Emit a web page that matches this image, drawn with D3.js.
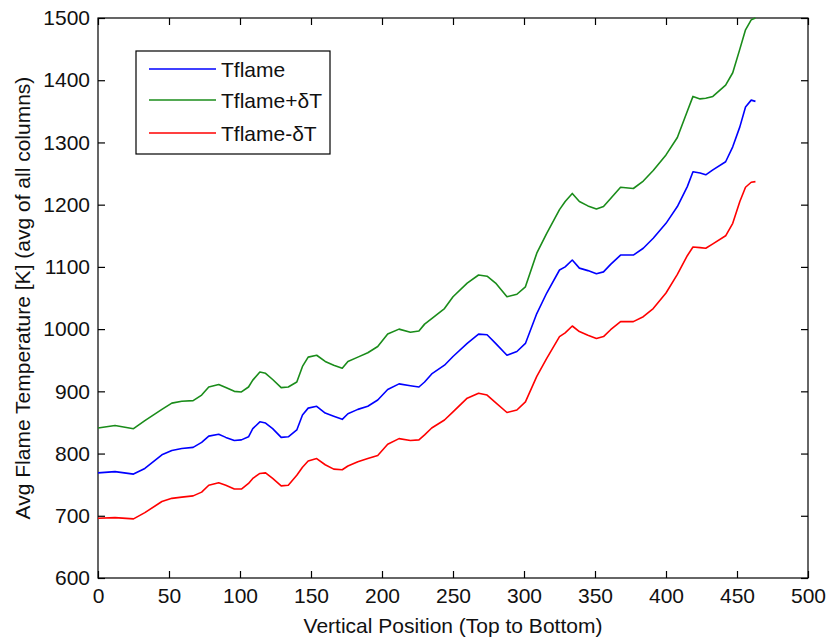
<!DOCTYPE html>
<html><head><meta charset="utf-8">
<script src="https://cdn.jsdelivr.net/npm/d3@7/dist/d3.min.js"></script>
<style>
body{margin:0;background:#fff}
svg{display:block}
text{font-family:"Liberation Sans",Arial,Helvetica,sans-serif;fill:#111}
</style>
</head><body>
<svg id="chart" width="827" height="639"></svg>
<script>
const positions = [0,12,25,33,45,52,59,67,73,78,85,90,96,101,106,109,114,118,123,129,134,140,144,148,154,160,166,172,176,183,190,197,204,212,220,226,230,235,244,250,260,268,274,280,288,295,301,309,316,325,329,334,339,345,351,356,361,368,377,384,391,400,408,415,419,424,428,433,442,447,452,456,460,463];
const tflame = [769,771,767,776,798,805,808,810,818,828,831,826,821,822,827,840,851,849,840,826,827,838,862,873,876,865,860,855,864,871,876,886,903,912,909,907,915,928,942,956,977,992,991,977,958,964,977,1025,1058,1095,1100,1111,1098,1094,1089,1092,1104,1119,1119,1130,1146,1170,1197,1229,1253,1251,1248,1256,1269,1293,1325,1357,1368,1366];
const tflamePlus = [841,845,840,853,871,881,884,885,894,907,911,906,900,899,907,918,931,929,919,906,907,915,940,955,958,948,942,937,948,955,962,972,992,1000,995,997,1008,1017,1033,1052,1074,1087,1085,1074,1052,1056,1068,1122,1154,1192,1205,1218,1205,1198,1193,1197,1210,1228,1226,1238,1255,1280,1308,1350,1374,1370,1371,1374,1392,1412,1450,1481,1497,1500];
const tflameMinus = [696,697,695,705,723,728,730,732,738,749,753,749,743,743,752,760,768,769,760,748,749,765,778,788,792,782,775,774,780,787,792,797,815,824,821,822,830,841,854,867,889,897,894,882,866,870,883,924,953,988,994,1005,996,990,985,988,999,1012,1012,1020,1033,1058,1088,1118,1132,1131,1130,1137,1150,1170,1205,1228,1236,1237];
const xTicks = [0,50,100,150,200,250,300,350,400,450,500];
const yTicks = [600,700,800,900,1000,1100,1200,1300,1400,1500];
const seriesNames = ["Tflame","Tflame+\u03b4T","Tflame-\u03b4T"];
const seriesColors = ["#0000ff","#1a8c1a","#ff0000"];
const xLabel = "Vertical Position (Top to Bottom)";
const yLabel = "Avg Flame Temperature [K] (avg of all columns)";

const svg = d3.select("#chart");
const L = 98, R = 808, T = 18, B = 578;
const x = d3.scaleLinear().domain([0,500]).range([L,R]);
const y = d3.scaleLinear().domain([600,1500]).range([B,T]);
const fs = 21;

// box
svg.append("rect").attr("x",L).attr("y",T).attr("width",R-L).attr("height",B-T)
  .attr("fill","none").attr("stroke","#000").attr("stroke-width",1.2);

function styleAxis(g){
  g.select(".domain").remove();
  g.selectAll(".tick line").attr("stroke","#000").attr("stroke-width",1.2);
  g.selectAll(".tick text").attr("font-size",fs).attr("fill","#111")
    .style("font-family",'"Liberation Sans",Arial,sans-serif');
}
const tk = 7;
svg.append("g").attr("transform",`translate(0,${B})`)
  .call(d3.axisBottom(x).tickValues(xTicks).tickFormat(d3.format("d")).tickSizeInner(-tk).tickSizeOuter(0).tickPadding(10))
  .call(styleAxis);
svg.append("g").attr("transform",`translate(0,${T})`)
  .call(d3.axisTop(x).tickValues(xTicks).tickFormat("").tickSizeInner(-tk).tickSizeOuter(0))
  .call(styleAxis);
svg.append("g").attr("transform",`translate(${L},0)`)
  .call(d3.axisLeft(y).tickValues(yTicks).tickFormat(d3.format("d")).tickSizeInner(-tk).tickSizeOuter(0).tickPadding(8))
  .call(styleAxis);
svg.append("g").attr("transform",`translate(${R},0)`)
  .call(d3.axisRight(y).tickValues(yTicks).tickFormat("").tickSizeInner(-tk).tickSizeOuter(0))
  .call(styleAxis);

// axis labels
svg.append("text").attr("x",(L+R)/2).attr("y",633).attr("text-anchor","middle")
  .attr("font-size",fs).text(xLabel);
svg.append("text").attr("transform",`translate(30,${(T+B)/2}) rotate(-90)`)
  .attr("text-anchor","middle").attr("font-size",fs).text(yLabel);

// lines
const seriesData = [tflame, tflamePlus, tflameMinus];
const line = d3.line().x((d,i)=>x(positions[i])).y(d=>y(d));
seriesData.forEach((s,k)=>{
  svg.append("path").datum(s).attr("d",line).attr("fill","none")
    .attr("stroke",seriesColors[k]).attr("stroke-width",1.6).attr("stroke-linejoin","round");
});

// legend
const lg = svg.append("g");
lg.append("rect").attr("x",136).attr("y",51).attr("width",194).attr("height",103)
  .attr("fill","#fff").attr("stroke","#000").attr("stroke-width",1.2);
const rowsY = [69,100,133];
seriesNames.forEach((n,k)=>{
  lg.append("line").attr("x1",149).attr("x2",216).attr("y1",rowsY[k]).attr("y2",rowsY[k])
    .attr("stroke",seriesColors[k]).attr("stroke-width",1.6);
  lg.append("text").attr("x",221).attr("y",rowsY[k]).attr("dy","0.36em")
    .attr("font-size",fs).text(n);
});
</script>
</body></html>
